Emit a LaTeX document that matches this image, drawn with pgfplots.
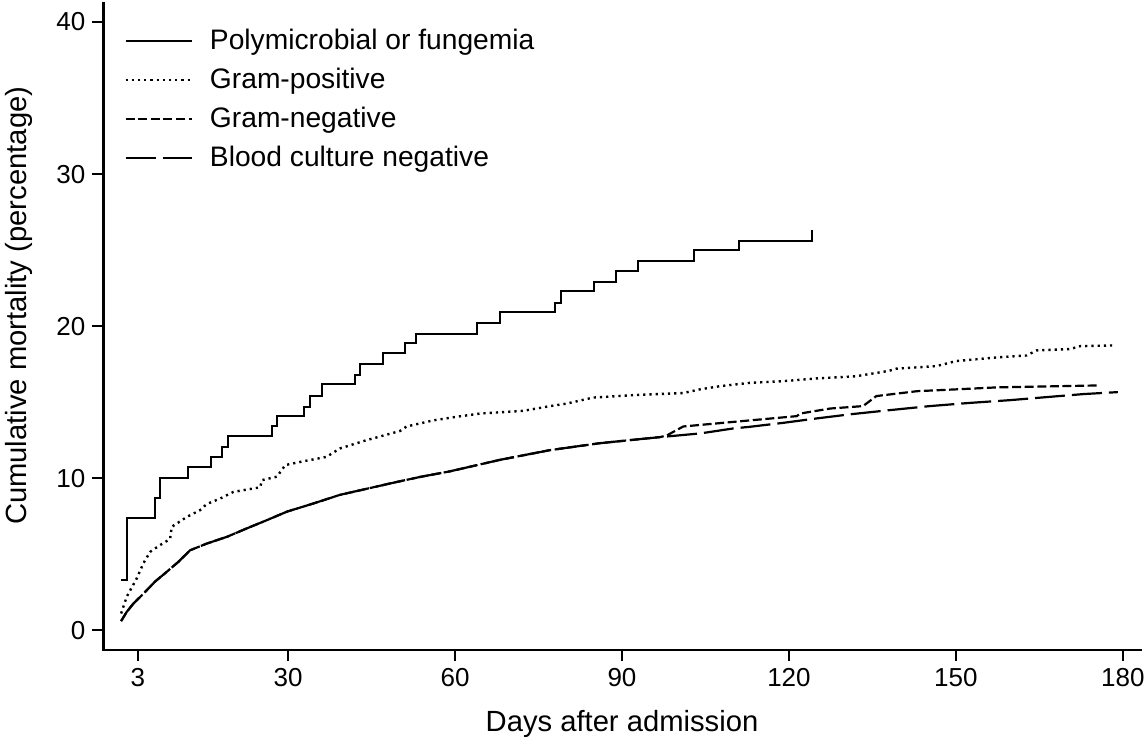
\documentclass[border=0pt]{standalone}
\usepackage{fontspec}
\setmainfont{Liberation Sans}
\usepackage{pgfplots}
\pgfplotsset{compat=1.18}

\pgfplotstableread{
x y
0 3.3
1.1 7.4
6.1 8.7
7.0 10.0
12.1 10.75
16.1 11.4
18.1 12.06
19.2 12.76
27.1 13.4
28.0 14.08
32.9 14.7
34.0 15.4
36.1 16.2
42.0 16.8
42.9 17.5
47.0 18.2
51.0 18.86
53.0 19.5
64.0 20.2
68.0 20.9
78.0 21.5
79.0 22.3
85.0 22.9
89.0 23.6
92.9 24.3
102.9 25.0
111.0 25.6
124.1 26.3
}\poly

\pgfplotstableread{
x y
0 1.1
1.0 2.2
2.8 3.4
4.0 4.4
5.2 5.15
7.0 5.6
8.8 6.0
9.1 6.8
11.8 7.45
14.2 7.9
15.4 8.3
17.8 8.66
20.2 9.1
25.0 9.4
25.3 9.87
28.0 10.1
29.5 10.86
32.2 11.07
36.9 11.4
39.3 11.95
44.1 12.5
50.1 13.1
51.3 13.4
56.1 13.8
60.3 14.04
64.5 14.25
72.3 14.43
77.1 14.74
80.0 14.9
84.8 15.3
92.0 15.46
101.0 15.6
104.0 15.84
107.6 16.05
113.0 16.27
119.0 16.38
125.0 16.56
132.0 16.7
138.0 17.06
139.3 17.2
146.5 17.37
150.0 17.7
157.3 17.94
162.7 18.07
164.5 18.4
170.5 18.49
172.3 18.68
178.2 18.73
}\gpos

\pgfplotstableread{
x y
0 0.6
1.0 1.2
2.2 1.75
4.0 2.4
6.1 3.2
8.2 3.84
10.3 4.5
12.4 5.26
15.4 5.7
19.0 6.14
22.6 6.7
26.2 7.24
29.8 7.8
34.5 8.33
39.3 8.9
44.1 9.3
48.9 9.7
53.7 10.08
59.1 10.45
68.0 11.2
77.0 11.84
86.0 12.3
96.8 12.7
98.0 12.8
101.0 13.4
110.0 13.7
121.4 14.08
122.0 14.25
127.4 14.58
133.3 14.74
135.7 15.4
143.0 15.72
150.0 15.84
157.3 15.97
175.9 16.1
}\gneg

\pgfplotstableread{
x y
0 0.6
1.0 1.2
2.2 1.75
4.0 2.4
6.1 3.2
8.2 3.84
10.3 4.5
12.4 5.26
15.4 5.7
19.0 6.14
22.6 6.7
26.2 7.24
29.8 7.8
34.5 8.33
39.3 8.9
44.1 9.3
48.9 9.7
53.7 10.08
59.1 10.45
68.0 11.2
77.0 11.84
86.0 12.3
96.8 12.7
104.0 12.94
110.0 13.27
113.0 13.38
119.0 13.64
125.0 13.93
131.0 14.2
138.0 14.47
145.3 14.74
152.5 14.95
159.7 15.13
166.9 15.35
172.9 15.53
179.1 15.66
}\bcneg

\begin{document}
\begin{tikzpicture}
\begin{axis}[
  scale only axis, width=518.7pt, height=323.5pt,
  xmin=-3.2, xmax=183.2, ymin=-1.3, ymax=41.25,
  axis x line=bottom, axis y line=left,
  axis line style={-, line width=1.4pt, line cap=rect},
  xtick={3,30,60,90,120,150,180}, ytick={0,10,20,30,40},
  minor tick num=0,
  tick align=outside, major tick length=5.5pt,
  every tick/.style={black, line width=0.8pt},
  /pgf/number format/assume math mode=true,
  ticklabel style={font=\fontsize{13}{15}\selectfont},
  xlabel={Days after admission},
  ylabel={Cumulative mortality (percentage)},
  every axis x label/.style={at={(rel axis cs:0.5,0)}, anchor=base, yshift=-40.5pt, font=\fontsize{14.6}{17}\selectfont},
  every axis y label/.style={at={([xshift=-38.3pt]rel axis cs:0,0.532)}, rotate=90, anchor=base, font=\fontsize{14.6}{17}\selectfont},
  legend style={draw=none, fill=none, at={(rel axis cs:0,1)}, anchor=north west, xshift=10.35pt, yshift=-13pt,
    font=\fontsize{14.1}{17}\selectfont, row sep=7.8pt, column sep=8.6pt, inner sep=0pt, nodes={inner sep=0pt}},
  legend cell align=left,
  legend image code/.code={\draw[#1] (0pt,0pt) -- (33pt,0pt);},
]
\addplot[black, line width=1pt, const plot] table {\poly};
\addlegendentry{Polymicrobial or fungemia}
\addplot[black, line width=1.2pt, dash pattern=on 1.1pt off 2pt] table {\gpos};
\addlegendentry{Gram-positive}
\addplot[black, line width=1.1pt, dash pattern=on 4.5pt off 1.8pt] table {\gneg};
\addlegendentry{Gram-negative}
\addplot[black, line width=1.1pt, dash pattern=on 15pt off 3.5pt] table {\bcneg};
\addlegendentry{Blood culture negative}
\end{axis}
\pgfresetboundingbox
\path ([xshift=-51.65pt,yshift=-44pt]current axis.south west) rectangle ([xshift=2.15pt,yshift=1.5pt]current axis.north east);
\end{tikzpicture}
\end{document}
